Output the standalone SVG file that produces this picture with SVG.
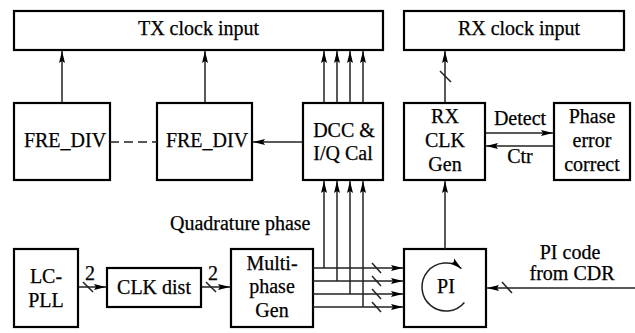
<svg xmlns="http://www.w3.org/2000/svg" width="635" height="333" viewBox="0 0 635 333">
<defs>
<style>
.box{fill:#fff;stroke:#000;stroke-width:2.2}
.ln{fill:none;stroke:#222;stroke-width:1.5}
.t{font-size:20px;fill:#000;stroke:#000;stroke-width:0.25;text-anchor:middle}
</style>
<marker id="ah" markerWidth="13" markerHeight="8" refX="12" refY="4" orient="auto" markerUnits="userSpaceOnUse">
<path d="M0,1 L12,4 L0,7 L2,4 z" fill="#000"/>
</marker>
</defs>
<rect width="635" height="333" fill="#fff"/>
<g font-family="'Liberation Serif', 'Times New Roman', serif">
<g id="tx-clock-input"><rect class="box" x="14" y="11" width="369" height="39"/><text class="t" x="198.5" y="35">TX clock input</text></g>
<g id="rx-clock-input"><rect class="box" x="404" y="11" width="220" height="39"/><text class="t" x="519" y="35">RX clock input</text></g>
<g id="fre-div-1"><rect class="box" x="14" y="103" width="96" height="77"/><text class="t" x="65" y="147">FRE_DIV</text></g>
<g id="fre-div-2"><rect class="box" x="157" y="103" width="95" height="77"/><text class="t" x="207" y="147">FRE_DIV</text></g>
<g id="dcc-iq-cal"><rect class="box" x="303" y="103" width="80" height="77"/><text class="t" x="344" y="137">DCC &amp;</text><text class="t" x="343" y="160">I/Q Cal</text></g>
<g id="rx-clk-gen"><rect class="box" x="404" y="103" width="81" height="77"/><text class="t" x="445" y="123">RX</text><text class="t" x="445" y="147">CLK</text><text class="t" x="445" y="171">Gen</text></g>
<g id="phase-error-correct"><rect class="box" x="554" y="103" width="76" height="77"/><text class="t" x="592" y="123">Phase</text><text class="t" x="592" y="147">error</text><text class="t" x="592" y="171">correct</text></g>
<g id="lc-pll"><rect class="box" x="14" y="249" width="64" height="78"/><text class="t" x="46" y="283">LC-</text><text class="t" x="46" y="307">PLL</text></g>
<g id="clk-dist"><rect class="box" x="107" y="268" width="94" height="39"/><text class="t" x="154" y="294">CLK dist</text></g>
<g id="multi-phase-gen"><rect class="box" x="231" y="249" width="82" height="78"/><text class="t" x="272" y="270">Multi-</text><text class="t" x="272" y="293">phase</text><text class="t" x="272" y="317">Gen</text></g>
<g id="pi"><rect class="box" x="404" y="249" width="82" height="78"/><path class="ln" d="M464.4,302.4 A24,24 0 1 1 461.4,268.6" marker-end="url(#ah)"/><text class="t" x="446" y="293">PI</text></g>

<g id="connectors">
<line class="ln" x1="62" y1="102" x2="62" y2="51" marker-end="url(#ah)"/>
<line class="ln" x1="205" y1="102" x2="205" y2="51" marker-end="url(#ah)"/>
<line class="ln" x1="110" y1="142" x2="157" y2="142" stroke-dasharray="9,5"/>
<line class="ln" x1="302" y1="142" x2="253" y2="142" marker-end="url(#ah)"/>
<line class="ln" x1="445" y1="102" x2="445" y2="51" marker-end="url(#ah)"/>
<line class="ln" x1="440" y1="71" x2="451" y2="82"/>
<line class="ln" x1="486" y1="133" x2="553" y2="133" marker-end="url(#ah)"/>
<line class="ln" x1="553" y1="146" x2="486" y2="146" marker-end="url(#ah)"/>
<text class="t" x="520" y="125">Detect</text>
<text class="t" x="520" y="163">Ctr</text>

<line class="ln" x1="324" y1="102" x2="324" y2="51" marker-end="url(#ah)"/>
<line class="ln" x1="337" y1="102" x2="337" y2="51" marker-end="url(#ah)"/>
<line class="ln" x1="350" y1="102" x2="350" y2="51" marker-end="url(#ah)"/>
<line class="ln" x1="363" y1="102" x2="363" y2="51" marker-end="url(#ah)"/>
<line class="ln" x1="324" y1="268" x2="324" y2="181" marker-end="url(#ah)"/>
<line class="ln" x1="337" y1="281" x2="337" y2="181" marker-end="url(#ah)"/>
<line class="ln" x1="350" y1="294" x2="350" y2="181" marker-end="url(#ah)"/>
<line class="ln" x1="363" y1="307" x2="363" y2="181" marker-end="url(#ah)"/>
<text class="t" x="170" y="230" style="text-anchor:start">Quadrature phase</text>

<line class="ln" x1="313" y1="268" x2="403" y2="268" marker-end="url(#ah)"/>
<line class="ln" x1="313" y1="281" x2="403" y2="281" marker-end="url(#ah)"/>
<line class="ln" x1="313" y1="294" x2="403" y2="294" marker-end="url(#ah)"/>
<line class="ln" x1="313" y1="307" x2="403" y2="307" marker-end="url(#ah)"/>
<line class="ln" x1="372" y1="263" x2="381" y2="273"/>
<line class="ln" x1="372" y1="276" x2="381" y2="286"/>
<line class="ln" x1="372" y1="289" x2="381" y2="299"/>
<line class="ln" x1="372" y1="302" x2="381" y2="312"/>

<line class="ln" x1="445" y1="249" x2="445" y2="181" marker-end="url(#ah)"/>

<line class="ln" x1="635" y1="288" x2="487" y2="288" marker-end="url(#ah)"/>
<line class="ln" x1="502" y1="282" x2="512" y2="293"/>
<text class="t" x="570" y="259">PI code</text>
<text class="t" x="572" y="280">from CDR</text>

<line class="ln" x1="79" y1="287" x2="106" y2="287" marker-end="url(#ah)"/>
<line class="ln" x1="83" y1="282" x2="93" y2="292"/>
<text class="t" x="90" y="280">2</text>
<line class="ln" x1="202" y1="287" x2="230" y2="287" marker-end="url(#ah)"/>
<line class="ln" x1="206" y1="282" x2="216" y2="292"/>
<text class="t" x="213" y="280">2</text>
</g>
</g>
</svg>
